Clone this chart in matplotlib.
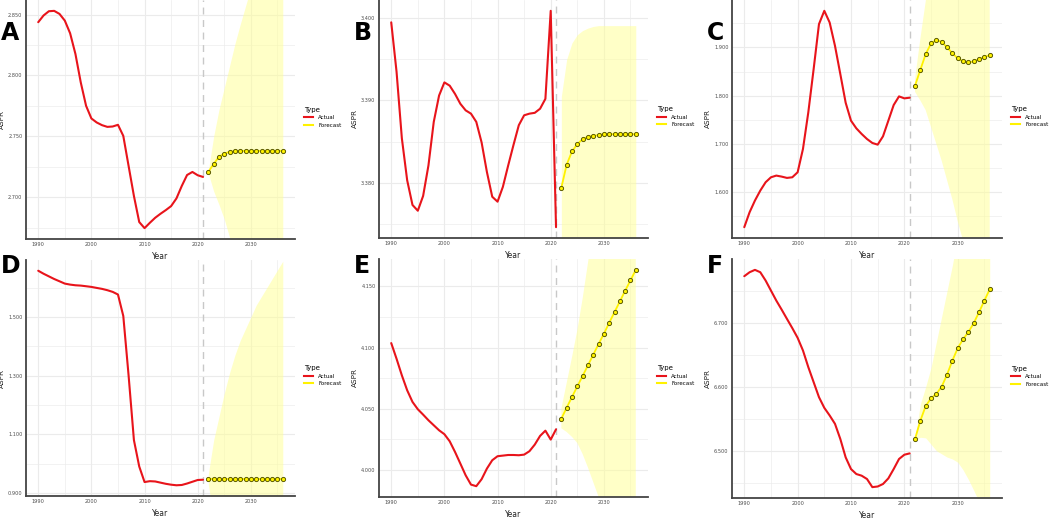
import numpy as np
import matplotlib
matplotlib.use("Agg")
import matplotlib.pyplot as plt
from matplotlib.lines import Line2D
from matplotlib.ticker import MultipleLocator, FormatStrFormatter

years = list(range(1990, 2022))
fyears = list(range(2022, 2037))

# panel A
a_actual = [2.8437, 2.8492, 2.8527, 2.8530, 2.8505, 2.8450, 2.8346, 2.8176, 2.7943, 2.7751,
            2.7647, 2.7614, 2.7592, 2.7578, 2.7581, 2.7595, 2.7504, 2.7257, 2.7011, 2.6797,
            2.6747, 2.6791, 2.6832, 2.6865, 2.6895, 2.6928, 2.6991, 2.7093, 2.7183, 2.7208,
            2.7181, 2.7167]
a_fc = [2.7208, 2.7274, 2.7332, 2.7359, 2.7373, 2.7378, 2.7380, 2.7381, 2.7381, 2.7381,
        2.7381, 2.7381, 2.7381, 2.7381, 2.7381]
a_hi = [2.722, 2.750, 2.772, 2.790, 2.808, 2.826, 2.842, 2.857, 2.872, 2.886,
        2.900, 2.913, 2.926, 2.938, 2.950]
a_lo = [2.7196, 2.705, 2.694, 2.682, 2.667, 2.650, 2.634, 2.619, 2.604, 2.590,
        2.576, 2.563, 2.550, 2.538, 2.526]

# panel B
b_actual = [3.3995, 3.3935, 3.3854, 3.3803, 3.3773, 3.3766, 3.3784, 3.3821, 3.3874, 3.3906,
            3.3922, 3.3918, 3.3908, 3.3896, 3.3888, 3.3884, 3.3874, 3.3849, 3.3813, 3.3783,
            3.3777, 3.3795, 3.3821, 3.3846, 3.3870, 3.3882, 3.3884, 3.3885, 3.3890, 3.3902,
            3.4009, 3.3746]
b_fc = [3.3794, 3.3822, 3.3838, 3.3847, 3.3853, 3.3856, 3.3857, 3.3858, 3.3859, 3.3859,
        3.3859, 3.3859, 3.3859, 3.3859, 3.3859]
b_hi = [3.3905, 3.3950, 3.3970, 3.3980, 3.3985, 3.3988, 3.3990, 3.3991, 3.3991, 3.3991,
        3.3991, 3.3991, 3.3991, 3.3991, 3.3991]
b_lo = [3.3683, 3.3694, 3.3706, 3.3714, 3.3721, 3.3724, 3.3724, 3.3725, 3.3727, 3.3727,
        3.3727, 3.3727, 3.3727, 3.3727, 3.3727]

# panel C
c_actual = [1.5276, 1.5586, 1.5828, 1.6034, 1.6207, 1.6310, 1.6345, 1.6324, 1.6297, 1.6310,
            1.6414, 1.6897, 1.7655, 1.8552, 1.9483, 1.9759, 1.9517, 1.9034, 1.8448, 1.7855,
            1.7483, 1.7324, 1.7207, 1.7103, 1.7021, 1.6986, 1.7159, 1.7483, 1.7807, 1.7986,
            1.7945, 1.7959]
c_fc = [1.8207, 1.8538, 1.8862, 1.9083, 1.9152, 1.9117, 1.9000, 1.8883, 1.8772, 1.8710,
        1.8690, 1.8710, 1.8759, 1.8800, 1.8841]
c_hi = [1.834, 1.918, 1.995, 2.080, 2.130, 2.160, 2.175, 2.190, 2.210, 2.240,
        2.280, 2.300, 2.330, 2.360, 2.380]
c_lo = [1.808, 1.790, 1.770, 1.735, 1.700, 1.665, 1.625, 1.585, 1.540, 1.500,
        1.460, 1.420, 1.380, 1.340, 1.300]

# panel D
d_actual = [1.6576, 1.6474, 1.6384, 1.6294, 1.6216, 1.6137, 1.6103, 1.6080, 1.6069, 1.6047,
            1.6024, 1.5990, 1.5957, 1.5912, 1.5855, 1.5765, 1.5034, 1.3000, 1.0800, 0.9900,
            0.9370, 0.9400, 0.9390, 0.9350, 0.9310, 0.9280, 0.9260, 0.9270, 0.9320, 0.9380,
            0.9440, 0.9450]
d_fc = [0.947] * 15
d_hi = [0.965, 1.080, 1.160, 1.240, 1.310, 1.370, 1.420, 1.460, 1.500, 1.540,
        1.570, 1.600, 1.630, 1.660, 1.690]
d_lo = [0.929, 0.814, 0.734, 0.654, 0.584, 0.524, 0.474, 0.434, 0.394, 0.354,
        0.324, 0.294, 0.264, 0.234, 0.204]

# panel E
e_actual = [4.1037, 4.0909, 4.0773, 4.0651, 4.0556, 4.0496, 4.0452, 4.0406, 4.0365, 4.0324,
            4.0292, 4.0234, 4.0147, 4.0052, 3.9956, 3.9880, 3.9867, 3.9924, 4.0011, 4.0079,
            4.0112, 4.0117, 4.0122, 4.0122, 4.0120, 4.0125, 4.0153, 4.0207, 4.0278, 4.0321,
            4.0248, 4.0332]
e_fc = [4.0419, 4.0509, 4.0596, 4.0683, 4.0768, 4.0855, 4.0942, 4.1029, 4.1113, 4.1203,
        4.1290, 4.1377, 4.1465, 4.1549, 4.1636]
e_hi = [4.050, 4.071, 4.092, 4.114, 4.140, 4.169, 4.198, 4.228, 4.258, 4.288,
        4.318, 4.348, 4.378, 4.408, 4.438]
e_lo = [4.034, 4.031, 4.027, 4.022, 4.013, 4.002, 3.990, 3.978, 3.965, 3.952,
        3.940, 3.927, 3.915, 3.902, 3.890]

# panel F
f_actual = [6.7729, 6.7791, 6.7828, 6.7791, 6.7661, 6.7504, 6.7348, 6.7207, 6.7061, 6.6917,
            6.6765, 6.6567, 6.6307, 6.6072, 6.5837, 6.5670, 6.5551, 6.5420, 6.5183, 6.4896,
            6.4713, 6.4635, 6.4609, 6.4557, 6.4430, 6.4440, 6.4479, 6.4567, 6.4713, 6.4870,
            6.4937, 6.4958]
f_fc = [6.5183, 6.5470, 6.5699, 6.5819, 6.5888, 6.6002, 6.6190, 6.6409, 6.6603, 6.6744,
        6.6854, 6.6995, 6.7167, 6.7348, 6.7525]
f_hi = [6.519, 6.573, 6.600, 6.630, 6.670, 6.710, 6.750, 6.790, 6.836, 6.880,
        6.920, 6.960, 7.000, 7.040, 7.080]
f_lo = [6.517, 6.521, 6.520, 6.510, 6.500, 6.495, 6.490, 6.487, 6.482, 6.470,
        6.455, 6.438, 6.420, 6.400, 6.380]

# letter, data, major step, tick offset, axes box (px: left, top, right, bottom), letter y (px)
panels = [
    ("A", a_actual, a_fc, a_lo, a_hi, 0.05, 0.0, (26, 0, 295, 239), 33),
    ("B", b_actual, b_fc, b_lo, b_hi, 0.01, 0.0, (379, 0, 648, 238), 33),
    ("C", c_actual, c_fc, c_lo, c_hi, 0.1, 0.0, (732, 0, 1002, 238), 33),
    ("D", d_actual, d_fc, d_lo, d_hi, 0.2, 0.1, (26, 260, 295, 496), 266),
    ("E", e_actual, e_fc, e_lo, e_hi, 0.05, 0.0, (379, 259, 648, 497), 266),
    ("F", f_actual, f_fc, f_lo, f_hi, 0.1, 0.0, (732, 259, 1002, 498), 266),
]

W, H = 1052, 519
fig = plt.figure(figsize=(W / 100, H / 100), dpi=100)
GRID = "#EBEBEB"
RED = "#E8141B"
YEL = "#FFF200"

for letter, act, fc, lo, hi, step, off, (x0, y0, x1, y1), ly in panels:
    w, h = x1 - x0, y1 - y0
    ax = fig.add_axes([x0 / W, 1 - y1 / H, w / W, h / H])
    ax.plot(years, act, color=RED, lw=1.5, zorder=4, solid_capstyle="round")
    ax.plot(fyears, fc, color=YEL, lw=1.3, zorder=4)
    ax.margins(0.05)
    ax.autoscale_view()
    ylim = ax.get_ylim()
    xlim = ax.get_xlim()
    ax.fill_between(fyears, lo, hi, color="#FFFF99", alpha=0.55, lw=0, zorder=1)
    ax.scatter(fyears, fc, s=9, facecolor=YEL, edgecolor="#5a5a00", linewidth=0.7, zorder=5)
    ax.axvline(2021, color="#C8C8C8", lw=1, ls=(0, (5, 4)), zorder=2)
    ax.set_ylim(ylim)
    ax.set_xlim(xlim)

    ax.xaxis.set_major_locator(MultipleLocator(10))
    ax.xaxis.set_minor_locator(MultipleLocator(5))
    ax.yaxis.set_major_locator(MultipleLocator(step, offset=off))
    ax.yaxis.set_minor_locator(MultipleLocator(step / 2, offset=off))
    ax.yaxis.set_major_formatter(FormatStrFormatter("%.3f"))
    ax.grid(which="major", color=GRID, lw=0.8, zorder=0)
    ax.grid(which="minor", color=GRID, lw=0.45, zorder=0)
    ax.set_axisbelow(True)
    ax.tick_params(which="both", length=0, labelsize=3.6, labelcolor="#4D4D4D", pad=2.5)
    ax.spines[["top", "right"]].set_visible(False)
    for s in ["left", "bottom"]:
        ax.spines[s].set_color("#444444")
        ax.spines[s].set_linewidth(1.3)
    ax.set_xlabel("Year", fontsize=5.5, color="#222222")
    ax.set_ylabel("ASPR", fontsize=5.2, color="#222222")
    ax.xaxis.set_label_coords(0.5, -13 / h)
    ax.yaxis.set_label_coords(-21 / w, 0.5)

    handles = [Line2D([], [], color=RED, lw=1.5), Line2D([], [], color=YEL, lw=1.5)]
    ax.legend(handles, ["Actual", "Forecast"], title="Type", loc="center left",
              bbox_to_anchor=(1 + 9 / w, 0.51), frameon=False, fontsize=4,
              title_fontsize=5, handlelength=1.7, handletextpad=0.9,
              labelspacing=0.45, alignment="left", borderpad=0, borderaxespad=0)

    fig.text((x0 - 25) / W, 1 - ly / H, letter, fontsize=17, fontweight="bold",
             va="center", ha="left")

fig.savefig("out.png", dpi=100)
